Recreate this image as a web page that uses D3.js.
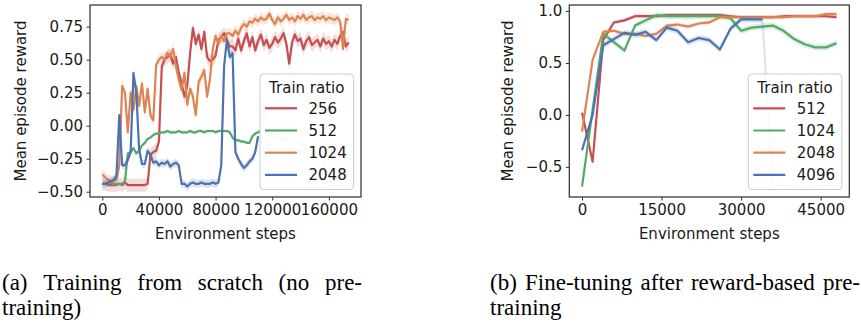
<!DOCTYPE html>
<html>
<head>
<meta charset="utf-8">
<script src="https://cdn.jsdelivr.net/npm/d3@7"></script>
<style>
body { margin: 0; background: #fff; }
svg text { font-family: "DejaVu Sans", sans-serif; fill: #1a1a1a; }
svg text.caption { font-family: "Liberation Serif", "Times New Roman", serif; font-size: 23px; fill: #000; }
</style>
</head>
<body>
<svg id="chart" width="861" height="322"></svg>
<script>
// panel (a): training from scratch, one reading every 2000 env steps
const stepsA = d3.range(0, 176000, 2000)
const ratiosA = ["256", "512", "1024", "2048"]
const red256 = [-0.44, -0.44, -0.45, -0.45, -0.45, -0.45, -0.44, -0.45, -0.43, -0.45, -0.45, -0.45, -0.45, -0.45, -0.45, -0.45, -0.44,
    -0.22, -0.20, -0.19, -0.12, 0.45, 0.50, 0.52, 0.54, 0.47, 0.52, 0.40, 0.32, 0.22, 0.30, 0.55, 0.74, 0.62, 0.69, 0.58, 0.71, 0.52, 0.49, 0.50, 0.53, 0.65, 0.67, 0.70, 0.65, 0.60,
    0.60, 0.57, 0.66, 0.57, 0.64, 0.70, 0.60, 0.67, 0.57, 0.64, 0.69, 0.61, 0.65, 0.59, 0.62, 0.67, 0.63, 0.66, 0.70, 0.62, 0.47,
    0.63, 0.69, 0.64, 0.66, 0.58, 0.64, 0.67, 0.61, 0.63, 0.65, 0.60, 0.66, 0.62, 0.64, 0.60, 0.65, 0.62, 0.68, 0.71, 0.60, 0.63]
const green512 = [-0.44, -0.44, -0.44, -0.43, -0.44, -0.44, -0.44, -0.44, -0.42,
    -0.21, -0.20, -0.17, -0.21, -0.19, -0.15, -0.13, -0.10, -0.09, -0.07, -0.06, -0.06,
    -0.05, -0.05, -0.04, -0.05, -0.05, -0.05, -0.04, -0.05, -0.05, -0.05, -0.04, -0.05, -0.05, -0.04, -0.04, -0.05, -0.04, -0.04, -0.04, -0.05, -0.04, -0.04, -0.04, -0.04, -0.05,
    -0.09, -0.11, -0.11, -0.12, -0.12, -0.13, -0.13, -0.08, -0.06, -0.05, -0.04,
    0.20, 0.00, -0.03, -0.07, -0.09, -0.10, -0.10, -0.11, -0.10, -0.11, -0.12, -0.11, -0.12, -0.13, -0.14, -0.15, -0.15, -0.15, -0.16, -0.16, -0.15, -0.16,
    -0.44, -0.45, -0.45, -0.46, -0.45, -0.46, -0.45, -0.45, -0.44]
const orange1024 = [-0.37, -0.39, -0.41, -0.42, -0.42, -0.41, -0.30, 0.30, 0.25, -0.05, 0.25, 0.12, 0.30, 0.15, 0.32, 0.10, 0.28, 0.08, 0.04,
    0.46, 0.50, 0.52, 0.50, 0.55, 0.53, 0.58, 0.45, 0.35, 0.27, 0.40, 0.16, 0.28, 0.22, 0.08, 0.33, 0.37, 0.42, 0.22, 0.35, 0.58, 0.68, 0.62, 0.68, 0.64, 0.70, 0.70,
    0.68, 0.72, 0.69, 0.74, 0.77, 0.75, 0.79, 0.78, 0.81, 0.79, 0.82, 0.80, 0.81, 0.85, 0.80, 0.77, 0.82, 0.79, 0.81, 0.84, 0.80,
    0.82, 0.79, 0.83, 0.81, 0.84, 0.80, 0.82, 0.83, 0.80, 0.82, 0.81, 0.83, 0.80, 0.82, 0.81, 0.80, 0.82, 0.79, 0.58, 0.81, 0.80]
const blue2048 = [-0.44, -0.44, -0.43, -0.42, -0.41, -0.38, 0.08, -0.30, -0.30, -0.26, -0.20, 0.40, 0.25, -0.18, -0.29, -0.29, -0.19, -0.22,
    -0.28, -0.27, -0.30, -0.28, -0.29, -0.27, -0.31, -0.29, -0.28, -0.30,
    -0.44, -0.44, -0.46, -0.44, -0.43, -0.44, -0.44, -0.43, -0.44, -0.44, -0.44, -0.43, -0.44, -0.43,
    -0.30, 0.45, 0.65, 0.52, 0.55, -0.20, -0.25, -0.29, -0.32, -0.30, -0.27, -0.25, -0.20, -0.08]
const fadeFromA = [null, 112000, null, null]
const spreadA = [0.05, 0.012, 0.04, 0.03]
const xTicksA = [0, 40000, 80000, 120000, 160000]
const yTicksA = [-0.5, -0.25, 0, 0.25, 0.5, 0.75]

// panel (b): fine-tuning after reward-based pre-training
const stepsB = d3.range(0, 50000, 2000)
const ratiosB = ["512", "1024", "2048", "4096"]
const red512 = [0.02, -0.45, 0.72, 0.89, 0.91, 0.95, 0.95, 0.95, 0.96, 0.96, 0.96, 0.96, 0.96, 0.96, 0.95, 0.94, 0.94, 0.94, 0.94, 0.95, 0.95, 0.95, 0.95, 0.95, 0.94]
const green1024 = [-0.69, 0.05, 0.78, 0.70, 0.62, 0.86, 0.91, 0.96, 0.95, 0.95, 0.95, 0.95, 0.95, 0.95, 0.93, 0.81, 0.84, 0.85, 0.86, 0.81, 0.73, 0.68, 0.65, 0.65, 0.69]
const orange2048 = [-0.16, 0.53, 0.80, 0.81, 0.78, 0.78, 0.76, 0.78, 0.86, 0.87, 0.85, 0.88, 0.89, 0.94, 0.94, 0.94, 0.94, 0.94, 0.94, 0.94, 0.95, 0.95, 0.95, 0.97, 0.97]
const blue4096 = [-0.34, 0.00, 0.67, 0.73, 0.79, 0.77, 0.80, 0.72, 0.84, 0.81, 0.70, 0.74, 0.72, 0.63, 0.83, 0.92, 0.92, 0.92, -0.68, -0.68, -0.69, -0.69, -0.69, -0.68, -0.68]
const fadeFromB = [null, null, null, 34000]
const spreadB = [0.02, 0.03, 0.02, 0.03]
const xTicksB = [0, 15000, 30000, 45000]
const yTicksB = [-0.5, 0, 0.5, 1.0]

const colors = ["#c44e52", "#55a868", "#dd8452", "#4c72b0"]

function renderPanel(svg, p) {
    let x = d3.scaleLinear().domain(p.xDomain).range([p.left, p.right])
    let y = d3.scaleLinear().domain(p.yDomain).range([p.bottom, p.top])

    let g = svg.append("g")
    let clipId = "clip" + p.id
    g.append("clipPath").attr("id", clipId)
        .append("rect")
        .attr("x", p.left).attr("y", p.top)
        .attr("width", p.right - p.left).attr("height", p.bottom - p.top)

    let marks = g.append("g").attr("clip-path", "url(#" + clipId + ")")

    let line = d3.line().x(d => x(d[0])).y(d => y(d[1]))
    let band = d3.area().x(d => x(d[0])).y0(d => y(d[1] - d[2])).y1(d => y(d[1] + d[2]))

    p.series.forEach(function (values, i) {
        let pts = values.map((v, j) => [p.steps[j], v, p.spread[i]])
        let cut = p.fadeFrom[i]
        let solid = cut == null ? pts : pts.filter(d => d[0] <= cut)
        let faded = cut == null ? [] : pts.filter(d => d[0] >= cut)

        marks.append("path").datum(solid)
            .attr("d", band)
            .attr("fill", colors[i])
            .attr("opacity", 0.2)
        marks.append("path").datum(solid)
            .attr("d", line)
            .attr("fill", "none")
            .attr("stroke", colors[i])
            .attr("stroke-width", 2.2)
            .attr("stroke-linejoin", "round")
        if (faded.length) {
            marks.append("path").datum(faded)
                .attr("d", line)
                .attr("fill", "none")
                .attr("stroke", colors[i])
                .attr("stroke-width", 2.2)
                .attr("stroke-opacity", 0.2)
        }
    })

    let xAxis = g.append("g")
        .attr("transform", "translate(0," + p.bottom + ")")
        .call(d3.axisBottom(x).tickValues(p.xTicks).tickFormat(d => String(d)).tickSize(3.5).tickPadding(3.5))
    let yAxis = g.append("g")
        .attr("transform", "translate(" + p.left + ",0)")
        .call(d3.axisLeft(y).tickValues(p.yTicks).tickFormat(d3.format(p.yFormat)).tickSize(3.5).tickPadding(3.5))

    ;[xAxis, yAxis].forEach(function (a) {
        a.select(".domain").remove()
        a.selectAll("line").attr("stroke", "#333").attr("stroke-width", 1)
        a.selectAll("text").style("font-size", "15px").style("font-family", "DejaVu Sans").attr("fill", "#1a1a1a")
    })

    g.append("rect")
        .attr("x", p.left).attr("y", p.top)
        .attr("width", p.right - p.left).attr("height", p.bottom - p.top)
        .attr("fill", "none")
        .attr("stroke", "#333")
        .attr("stroke-width", 1.25)

    g.append("text")
        .attr("x", (p.left + p.right) / 2)
        .attr("y", 239)
        .style("text-anchor", "middle")
        .style("font-size", "15px")
        .text("Environment steps")

    g.append("text")
        .attr("transform", "translate(" + p.yLabelX + "," + (p.top + p.bottom) / 2 + ") rotate(-90)")
        .style("text-anchor", "middle")
        .style("font-size", "15px")
        .text("Mean episode reward")

    // legend
    let lg = g.append("g").attr("transform", "translate(" + p.legendX + ",74)")
    lg.append("rect")
        .attr("width", 93.5).attr("height", 115.5)
        .attr("rx", 3.5)
        .attr("fill", "white").attr("fill-opacity", 0.8)
        .attr("stroke", "#cccccc").attr("stroke-width", 1)
    lg.append("text")
        .attr("x", 46.75).attr("y", 18.5)
        .style("text-anchor", "middle")
        .style("font-size", "15px")
        .text("Train ratio")
    p.labels.forEach(function (lab, i) {
        let yy = 34.3 + i * 22.2
        lg.append("line")
            .attr("x1", 5).attr("x2", 37).attr("y1", yy).attr("y2", yy)
            .attr("stroke", colors[i]).attr("stroke-width", 2.2)
        lg.append("text")
            .attr("x", 48.5).attr("y", yy + 5.4)
            .style("font-size", "15px")
            .text(lab)
    })
}

function drawCaption(svg, lines, x0, x1, y0) {
    lines.forEach(function (line, i) {
        let y = y0 + i * 25
        if (!line.justify) {
            svg.append("text").attr("class", "caption").attr("x", x0).attr("y", y).text(line.text)
            return
        }
        let words = line.text.split(" ")
        let nodes = words.map(w => svg.append("text").attr("class", "caption").attr("y", y).text(w))
        let widths = nodes.map(n => n.node().getComputedTextLength())
        let gap = (x1 - x0 - d3.sum(widths)) / (words.length - 1)
        let xx = x0
        nodes.forEach(function (n, j) {
            n.attr("x", xx)
            xx += widths[j] + gap
        })
    })
}

var svg = d3.select("#chart")

renderPanel(svg, {
    id: "a", left: 90, right: 361, top: 5, bottom: 197,
    xDomain: [-8700, 182700], yDomain: [-0.54, 0.914],
    steps: stepsA, series: [red256, green512, orange1024, blue2048],
    spread: spreadA, fadeFrom: fadeFromA, labels: ratiosA,
    xTicks: xTicksA, yTicks: yTicksA, yFormat: ".2f",
    yLabelX: 25.5, legendX: 260
})

renderPanel(svg, {
    id: "b", left: 569.3, right: 849.3, top: 5, bottom: 197,
    xDomain: [-2400, 50400], yDomain: [-0.79, 1.058],
    steps: stepsB, series: [red512, green1024, orange2048, blue4096],
    spread: spreadB, fadeFrom: fadeFromB, labels: ratiosB,
    xTicks: xTicksB, yTicks: yTicksB, yFormat: ".1f",
    yLabelX: 512.5, legendX: 748.3
})

drawCaption(svg, [{ text: "(a) Training from scratch (no pre-", justify: true }, { text: "training)" }], 2, 362, 290)
drawCaption(svg, [{ text: "(b) Fine-tuning after reward-based pre-", justify: true }, { text: "training" }], 490, 860, 290)
</script>
</body>
</html>
